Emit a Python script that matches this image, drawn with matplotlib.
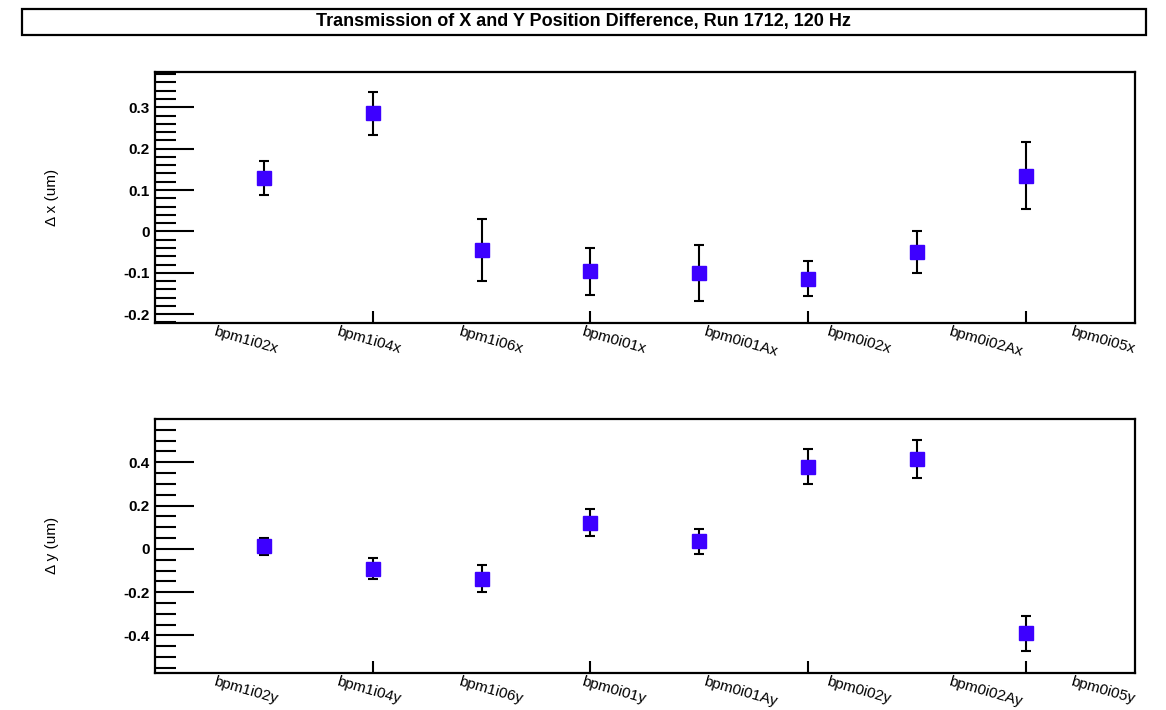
import matplotlib.pyplot as plt
from matplotlib.patches import Rectangle

# ── Data: position differences per BPM ─────────────────────────────────────
bpms = ["bpm1i02", "bpm1i04", "bpm1i06", "bpm0i01",
        "bpm0i01A", "bpm0i02", "bpm0i02A", "bpm0i05"]

dx = [0.129, 0.286, -0.045, -0.096, -0.100, -0.114, -0.050, 0.134]
dx_err = [0.040, 0.052, 0.075, 0.057, 0.068, 0.042, 0.051, 0.081]

dy = [0.011, -0.091, -0.137, 0.121, 0.034, 0.380, 0.414, -0.390]
dy_err = [0.038, 0.050, 0.062, 0.063, 0.056, 0.080, 0.087, 0.081]

n = len(bpms)
pos = list(range(1, n + 1))
# category labels sit on n equal bins across the 0..n+1 axis
label_pos = [(i + 0.5) * (n + 1) / n for i in range(n)]
mark_color = "#3d00ff"

plt.rcParams["font.family"] = ["Liberation Sans", "DejaVu Sans"]

fig = plt.figure(figsize=(11.66, 7.10), dpi=100)

# title box across the top
fig.patches.append(Rectangle((0.019, 0.951), 0.964, 0.037, transform=fig.transFigure,
                             fill=False, edgecolor="black", linewidth=1.6))
fig.text(0.5, 0.970, "Transmission of X and Y Position Difference, Run 1712, 120 Hz",
         ha="center", va="center", fontsize=13, fontweight="bold")

ax_x = fig.add_axes([0.133, 0.545, 0.840, 0.354])
ax_y = fig.add_axes([0.133, 0.0525, 0.840, 0.3575])


def style_panel(ax, values, errors, suffix, ylim, major, minor, ylabel):
    ax.errorbar(pos, values, yerr=errors, fmt="s", color=mark_color,
                markersize=10, ecolor="black", elinewidth=1.5, capsize=3.5,
                capthick=1.5, zorder=3)
    ax.set_xlim(0, n + 1)
    ax.set_ylim(*ylim)

    ax.set_xticks(label_pos)
    ax.set_xticklabels([b + suffix for b in bpms], rotation=-16,
                       rotation_mode="anchor", ha="left", va="top", fontsize=11)
    ax.set_xticks([2, 4, 6, 8], minor=True)
    ax.tick_params(axis="x", which="major", length=0, pad=1)
    ax.tick_params(axis="x", which="minor", direction="in", length=9, width=1.5)

    ax.set_yticks(major)
    ax.set_yticks(minor, minor=True)
    ax.set_yticklabels([f"{v:g}" for v in major], fontsize=11, fontweight="bold")
    ax.tick_params(axis="y", which="major", direction="in", length=28, width=1.5, pad=4)
    ax.tick_params(axis="y", which="minor", direction="in", length=15, width=1.5)
    ax.set_ylabel(ylabel, fontsize=11, labelpad=46)

    for sp in ax.spines.values():
        sp.set_linewidth(1.6)


major_x = [-0.2, -0.1, 0, 0.1, 0.2, 0.3]
minor_x = [round(-0.22 + 0.02 * i, 2) for i in range(31)]
style_panel(ax_x, dx, dx_err, "x", (-0.2215, 0.386), major_x, minor_x, "Δ x (um)")

major_y = [-0.4, -0.2, 0, 0.2, 0.4]
minor_y = [round(-0.55 + 0.05 * i, 2) for i in range(23)]
style_panel(ax_y, dy, dy_err, "y", (-0.572, 0.600), major_y, minor_y, "Δ y (um)")

plt.savefig("out.png", dpi=100)
